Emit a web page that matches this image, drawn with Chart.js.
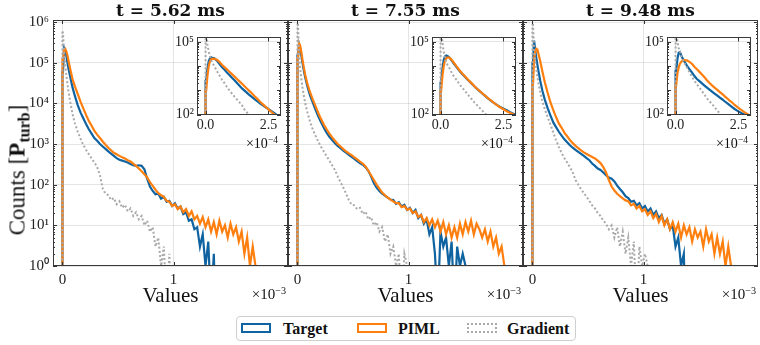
<!DOCTYPE html>
<html><head><meta charset="utf-8">
<script src="https://cdn.jsdelivr.net/npm/chart.js@4.4.1/dist/chart.umd.min.js"></script>
<style>
html,body{margin:0;padding:0;background:#fff;overflow:hidden;}
#root{position:relative;width:760px;height:345px;overflow:hidden;font-family:"Liberation Serif",serif;color:#111;background:#fff;}
canvas{position:absolute;}
.t{position:absolute;white-space:nowrap;line-height:1;}
sup{font-size:0.68em;vertical-align:0.5em;line-height:0;}
.sub{font-size:0.7em;vertical-align:-0.3em;line-height:0;}
</style></head><body><div id="root"></div>
<script>
// ---------- data ----------
const titles = ['t = 5.62 ms', 't = 7.55 ms', 't = 9.48 ms'];
const seriesNames = ['Target', 'PIML', 'Gradient'];
const yTicks = [1, 10, 100, 1000, 10000, 100000, 1000000];
const yTickLabels = ['10⁰', '10¹', '10²', '10³', '10⁴', '10⁵', '10⁶'];
const xTicks = [0, 1];
const xTickLabels = ['0', '1'];
const insetXTicks = [0, 2.5];
const insetXTickLabels = ['0.0', '2.5'];
const insetYTicks = [100, 100000];
const insetYTickLabels = ['10²', '10⁵'];

// bin edges (Values in units of 1e-3 for main panels, 1e-4 for insets)
const mainEdges = [0,0.01,0.02,0.03,0.04,0.05,0.06,0.08,0.1,0.125,0.15,0.175,0.2,0.225,0.25,0.275,0.3,0.325,0.35,0.375,0.4,0.425,0.45,0.475,0.5,0.525,0.55,0.575,0.6,0.625,0.65,0.675,0.7,0.725,0.75,0.775,0.8,0.825,0.85,0.875,0.9,0.925,0.95,0.975,1.0,1.025,1.05,1.075,1.1,1.125,1.15,1.175,1.2,1.225,1.25,1.275,1.3,1.325,1.35,1.375,1.4,1.425,1.45,1.475,1.5,1.525,1.55,1.575,1.6,1.625,1.65,1.675,1.7,1.725,1.75,1.775,1.8,1.825,1.85,1.875,1.9];
const insetEdges = [0,0.05,0.1,0.15,0.2,0.25,0.3,0.4,0.5,0.6,0.7,0.8,0.9,1.0,1.1,1.2,1.3,1.4,1.5,1.6,1.7,1.8,1.9,2.0,2.1,2.2,2.3,2.4,2.5,2.6,2.7,2.8,2.9,3.0];

// panel 1 (t = 5.62 ms)
const target1 = [60000,230000,200000,150000,100000,70000,45000,25000,15000,9000,6000,4300,3100,2300,1800,1400,1200,1000,870,760,660,580,510,450,410,390,370,350,320,300,290,300,290,240,140,90,70,58,60,45,50,38,40,30,35,26,29,19,21,13,14,8,9,3,6,1,4,0,2];
const piml1 = [120000,210000,220000,190000,150000,110000,70000,40000,26000,17000,11000,7500,5200,3700,2800,2100,1700,1400,1150,960,810,700,610,560,510,470,440,400,370,330,290,250,215,180,150,115,93,75,62,55,50,40,38,30,33,25,29,21,25,17,22,14,17,11,16,9,14,7,12,6,13,7,10,5,11,6,9,4,7,2,5,1,3,1];
const grad1 = [550000,180000,90000,50000,30000,19000,11000,5500,3200,2000,1350,950,720,560,440,350,270,170,80,60,55,42,47,33,39,27,32,22,26,17,21,14,17,10,13,7,9,3,5,1,3,0,2];
// panel 2 (t = 7.55 ms)
const target2 = [150000,280000,220000,150000,100000,70000,43000,26000,16000,10500,7000,4800,3400,2500,1900,1500,1250,1050,900,790,690,610,540,480,430,380,340,310,270,220,160,110,85,70,60,54,48,43,42,34,37,29,32,24,27,20,24,15,18,11,14,6,9,2,0,7,3,5,1,4,0,3,1,2,1];
const piml2 = [130000,300000,260000,180000,120000,82000,50000,30000,19000,12500,8500,5800,4100,3000,2300,1800,1450,1200,1000,870,750,660,590,530,470,420,370,330,280,220,170,130,100,80,64,55,48,43,39,35,35,28,30,24,26,20,22,16,18,12,15,10,14,9,13,7,12,6,10,5,9,5,11,6,12,7,13,6,11,8,5,8,4,7,3,5,2,3,1];
const grad2 = [850000,150000,70000,40000,25000,17000,10000,6000,3600,2300,1600,1150,850,650,500,390,300,230,160,115,85,60,42,32,31,25,27,19,22,14,16,10,12,7,9,4,6,2,3,1,2,0,2,1,1];
// panel 3 (t = 9.48 ms)
const target3 = [100000,350000,200000,130000,87000,60000,36000,20000,12000,7500,5000,3400,2600,2000,1600,1300,1100,930,810,720,640,570,510,450,400,330,290,250,230,200,170,150,140,120,95,78,65,52,47,38,40,31,35,26,30,22,26,18,22,15,18,11,14,8,10,3,5,1,2];
const piml3 = [30000,120000,190000,220000,210000,160000,110000,60000,32000,18000,10500,6800,4600,3200,2500,1900,1550,1250,1050,900,790,700,620,570,520,480,440,390,340,270,200,130,90,72,60,52,46,41,39,31,34,26,30,22,25,18,22,15,19,12,17,10,14,8,12,7,11,5,10,6,9,4,8,5,7,3,8,4,6,2,5,2,4,1,3,1];
const grad3 = [850000,220000,110000,70000,45000,30000,19000,11000,7000,4500,3000,1900,1250,850,600,450,350,270,200,130,100,78,62,50,40,31,26,20,17,13,11,8,10,5,9,3,7,2,5,1,4,0,3,1,2,1];

// insets
const insetTarget1 = [2500,7900,16000,21000,23000,22000,21000,17000,12600,9300,7200,5500,4300,3300,2600,2000,1550,1200,980,790,630,525,436,363,295,251,214,182,155,132,112,93,79];
const insetPiml1 = [1000,4000,10000,16000,19000,20400,20000,18600,15100,11500,9100,7400,5900,4700,3700,2950,2350,1860,1480,1170,930,740,575,457,355,282,229,182,148,120,100,85,72];
const insetGrad1 = [320000,79000,40000,25000,17800,13200,10000,6300,4200,2800,2000,1380,1000,740,550,420,316,240,160,120,91,71,56,45];
const insetTarget2 = [2000,7900,17800,25000,27500,26300,22900,16600,12000,8700,6500,4900,3800,2950,2350,1820,1450,1150,930,760,620,500,410,340,290,245,210,186,166,148,129,115,100];
const insetPiml2 = [1000,4000,10000,16600,20900,22400,22400,17800,12900,9300,6800,5100,4000,3100,2400,1900,1480,1170,950,780,630,510,420,350,290,245,204,178,155,135,120,107,95];
const insetGrad2 = [400000,100000,40000,22400,14800,11200,8300,5200,3500,2600,1800,1350,1000,740,550,420,316,245,190,148,117,91,71,56];
const insetTarget3 = [6300,20000,35500,38000,28200,21400,15800,10500,7600,5500,3900,2950,2400,1950,1580,1290,1070,890,740,620,510,430,355,295,245,204,170,145,126,110,98,89,83];
const insetPiml3 = [1600,5000,8900,12600,15100,16600,17800,17400,15100,12600,9500,7400,5800,4500,3500,2600,2000,1600,1300,1070,870,710,575,470,380,316,250,210,174,145,123,107,91];
const insetGrad3 = [400000,100000,56000,40000,26300,18600,14100,8900,5600,3700,2500,1780,1290,930,660,470,355,270,204,151,112,79,60];

// ---------- drawing ----------
const SERIF = '"Liberation Serif", serif';
const COLORS = {Target:'#0f63a0', PIML:'#ff7f0e', Gradient:'#a9a9a9'};
const GRID = 'rgba(0,0,0,0.10)';
const FLOOR = 0.1;
const root = document.getElementById('root');

// histogram outline: vertical rise at the first edge, bin centres, and the closing edge
function outline(edges, counts, keepLast){
  const pts = [{x: edges[0], y: FLOOR}, {x: edges[0], y: counts[0]}];
  for (let i = 0; i < counts.length; i++){
    pts.push({x: (edges[i] + edges[i+1]) / 2, y: counts[i] > 0 ? counts[i] : FLOOR});
  }
  const n = counts.length;
  pts.push({x: edges[n], y: keepLast ? counts[n-1] : FLOOR});
  return pts;
}
function datasets(edges, t, p, g, keep){
  const common = {pointRadius: 0, fill: false, tension: 0, borderJoinStyle: 'miter'};
  return [
    Object.assign({label: seriesNames[2], data: outline(edges, g, false), borderColor: COLORS.Gradient, borderWidth: 2, borderDash: [2, 2.2]}, common),
    Object.assign({label: seriesNames[1], data: outline(edges, p, keep), borderColor: COLORS.PIML, borderWidth: 2.2}, common),
    Object.assign({label: seriesNames[0], data: outline(edges, t, keep), borderColor: COLORS.Target, borderWidth: 2.2}, common)
  ];
}
const framePlugin = {
  id: 'frameTicks',
  beforeDraw(chart, args, opts){
    if (opts.white){
      const a = chart.chartArea, ctx = chart.ctx;
      ctx.save(); ctx.fillStyle = '#fff'; ctx.fillRect(a.left, a.top, a.right-a.left, a.bottom-a.top); ctx.restore();
    }
  },
  afterDatasetsDraw(chart, args, opts){
    const {ctx, chartArea: a} = chart;
    const x = chart.scales.x, y = chart.scales.y;
    ctx.save();
    ctx.strokeStyle = '#333'; ctx.lineWidth = 1;
    ctx.beginPath();
    const lo = Math.floor(Math.log10(y.min)), hi = Math.ceil(Math.log10(y.max));
    for (let d = lo; d <= hi; d++) for (let m = 1; m < 10; m++){
      const v = m * Math.pow(10, d);
      if (v < y.min || v > y.max) continue;
      const py = Math.round(y.getPixelForValue(v)) + 0.5;
      const len = m === 1 ? 4 : 2;
      ctx.moveTo(a.left, py); ctx.lineTo(a.left + len, py);
      ctx.moveTo(a.right, py); ctx.lineTo(a.right - len, py);
    }
    x.ticks.forEach(t => {
      const px = Math.round(x.getPixelForValue(t.value)) + 0.5;
      ctx.moveTo(px, a.bottom); ctx.lineTo(px, a.bottom - 4);
      ctx.moveTo(px, a.top); ctx.lineTo(px, a.top + 4);
    });
    ctx.stroke();
    ctx.strokeStyle = '#3a3a3a';
    ctx.strokeRect(Math.round(a.left) + 0.5, Math.round(a.top) + 0.5, Math.round(a.right - a.left) - 1, Math.round(a.bottom - a.top) - 1);
    ctx.restore();
  }
};

function makeCanvas(left, top, w, h){
  const cv = document.createElement('canvas');
  cv.width = w; cv.height = h;
  cv.style.left = left + 'px'; cv.style.top = top + 'px';
  cv.style.width = w + 'px'; cv.style.height = h + 'px';
  root.appendChild(cv);
  return cv;
}
function addText(html, left, top, size, extra){
  const d = document.createElement('div');
  d.className = 't';
  d.innerHTML = html;
  d.style.left = left + 'px'; d.style.top = top + 'px';
  d.style.fontSize = size + 'px';
  if (extra) Object.assign(d.style, extra);
  root.appendChild(d);
  return d;
}

const mainData = [[target1, piml1, grad1], [target2, piml2, grad2], [target3, piml3, grad3]];
const insetData = [[insetTarget1, insetPiml1, insetGrad1], [insetTarget2, insetPiml2, insetGrad2], [insetTarget3, insetPiml3, insetGrad3]];

for (let i = 0; i < 3; i++){
  const L = 53 + 235 * i;
  const cLeft = i === 0 ? 0 : L - 4;
  const cW = L + 235 + 4 - cLeft;
  const cv = makeCanvas(cLeft, 0, cW, 345);
  const [t, p, g] = mainData[i];
  new Chart(cv, {
    type: 'line',
    data: {datasets: datasets(mainEdges, t, p, g, false)},
    options: {
      responsive: false, animation: false, devicePixelRatio: 1, events: [],
      layout: {padding: {left: i === 0 ? 0 : 4, right: 4, top: 20, bottom: 0}},
      plugins: {legend: {display: false}, tooltip: {enabled: false}, title: {display: false}, frameTicks: {white: false}},
      scales: {
        x: {type: 'linear', min: -0.085, max: 2.03,
            afterBuildTicks: s => { s.ticks = xTicks.map(v => ({value: v})); },
            afterFit: s => { s.height = 79; },
            grid: {color: GRID, lineWidth: 1, drawTicks: false}, border: {display: false},
            ticks: {padding: 5, autoSkip: false, maxRotation: 0, font: {family: SERIF, size: 15}, color: '#222', callback: (v, k) => xTickLabels[k]}},
        y: {type: 'logarithmic', min: 1, max: 1.12e6,
            afterBuildTicks: s => { s.ticks = yTicks.map(v => ({value: v})); },
            afterFit: s => { s.width = i === 0 ? 53 : 0; },
            grid: {color: GRID, lineWidth: 1, drawTicks: false}, border: {display: false},
            ticks: {display: i === 0, padding: 4, autoSkip: false, font: {family: SERIF, size: 15}, color: '#222', callback: (v, k) => yTickLabels[k]}}
      }
    },
    plugins: [framePlugin]
  });

  // inset
  const IL = 197 + 235 * i;
  const icv = makeCanvas(IL - 35, 26, 125, 104);
  const [it, ip, ig] = insetData[i];
  new Chart(icv, {
    type: 'line',
    data: {datasets: datasets(insetEdges, it, ip, ig, true)},
    options: {
      responsive: false, animation: false, devicePixelRatio: 1, events: [],
      layout: {padding: {left: 0, right: 6, top: 4, bottom: 0}},
      plugins: {legend: {display: false}, tooltip: {enabled: false}, frameTicks: {white: true}},
      scales: {
        x: {type: 'linear', min: -0.34, max: 3.0,
            afterBuildTicks: s => { s.ticks = insetXTicks.map(v => ({value: v})); },
            afterFit: s => { s.height = 15; },
            grid: {color: GRID, lineWidth: 1, drawTicks: false}, border: {display: false},
            ticks: {padding: 2, autoSkip: false, maxRotation: 0, font: {family: SERIF, size: 14}, color: '#222', callback: (v, k) => insetXTickLabels[k]}},
        y: {type: 'logarithmic', min: 96, max: 1.54e5,
            afterBuildTicks: s => { s.ticks = insetYTicks.map(v => ({value: v})); },
            afterFit: s => { s.width = 35; },
            grid: {color: GRID, lineWidth: 1, drawTicks: false}, border: {display: false},
            ticks: {padding: 3, autoSkip: false, font: {family: SERIF, size: 14}, color: '#222', callback: (v, k) => insetYTickLabels[k]}}
      }
    },
    plugins: [framePlugin]
  });

  // texts
  const cx = L + 117.5;
  addText(titles[i], cx, 2, 17, {fontWeight: 'bold', fontFamily: '"DejaVu Serif", serif', transform: 'translateX(-50%)'});
  addText('Values', cx, 285, 21, {transform: 'translateX(-50%)'});
  addText('×10<sup>−3</sup>', L + 233, 287, 15, {transform: 'translateX(-100%)'});
  addText('×10<sup>−4</sup>', IL + 81, 137, 14, {transform: 'translateX(-100%)'});
}
addText('Counts [<b>P<span class="sub">turb</span></b>]', 17, 170, 23, {transform: 'translate(-50%,-50%) rotate(-90deg)'});

// legend
const lg = document.createElement('div');
Object.assign(lg.style, {position: 'absolute', left: '236px', top: '316px', width: '340px', height: '25px', border: '1px solid #cfcfcf', borderRadius: '4px', boxSizing: 'border-box', background: '#fff'});
root.appendChild(lg);
const patchX = [241, 357, 467];
const textX = [283, 398, 507];
const patchStyle = [`2px solid ${COLORS.Target}`, `2px solid ${COLORS.PIML}`, `2px dotted ${COLORS.Gradient}`];
for (let k = 0; k < 3; k++){
  const pch = document.createElement('div');
  Object.assign(pch.style, {position: 'absolute', left: patchX[k] + 'px', top: '323px', width: '30px', height: '10px', border: patchStyle[k], boxSizing: 'border-box'});
  root.appendChild(pch);
  addText(seriesNames[k], textX[k], 321, 16, {fontWeight: 'bold'});
}
</script></body></html>
